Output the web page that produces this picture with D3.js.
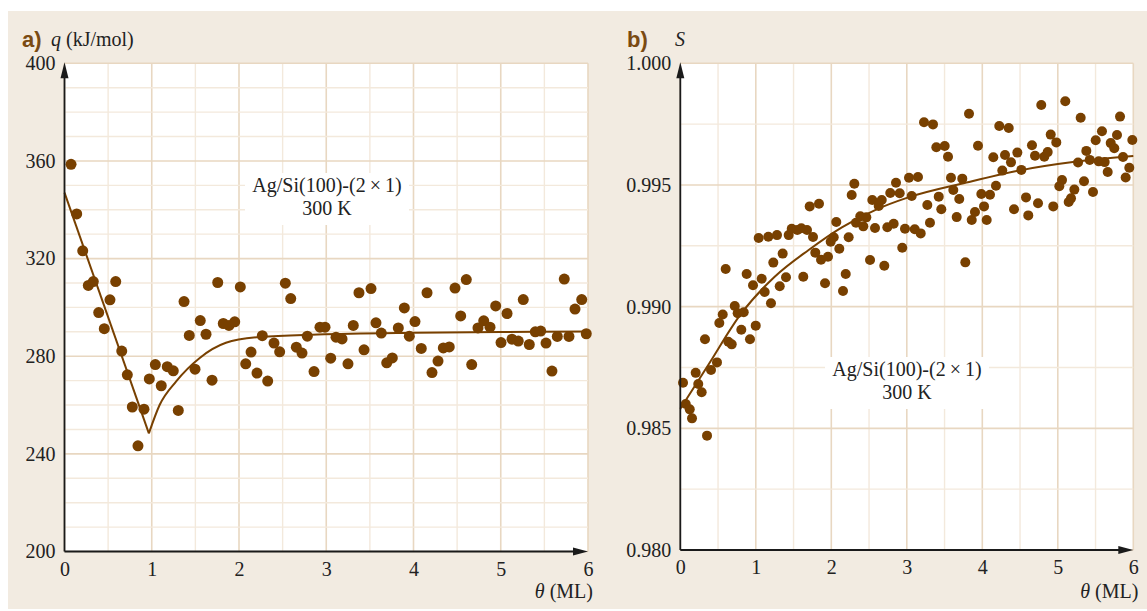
<!DOCTYPE html>
<html>
<head>
<meta charset="utf-8">
<script src="https://cdn.jsdelivr.net/npm/d3@7"></script>
<style>
  body { margin: 0; background: #fff; }
</style>
</head>
<body>
<div id="chart"></div>
<script>
// panel a: heat of adsorption q (kJ/mol) vs coverage theta (ML)
const heatTheta = [0.075, 0.14, 0.209, 0.273, 0.33, 0.392, 0.456, 0.521, 0.587, 0.656, 0.72, 0.777, 0.842, 0.911, 0.972, 1.041, 1.109, 1.178, 1.247, 1.304, 1.37, 1.43, 1.496, 1.556, 1.622, 1.691, 1.756, 1.82, 1.885, 1.951, 2.015, 2.077, 2.138, 2.206, 2.267, 2.329, 2.401, 2.466, 2.531, 2.593, 2.657, 2.722, 2.783, 2.86, 2.928, 2.986, 3.051, 3.112, 3.181, 3.249, 3.31, 3.375, 3.433, 3.513, 3.57, 3.631, 3.693, 3.757, 3.826, 3.895, 3.952, 4.017, 4.089, 4.155, 4.212, 4.281, 4.342, 4.41, 4.476, 4.541, 4.605, 4.667, 4.739, 4.805, 4.877, 4.942, 5.003, 5.072, 5.129, 5.201, 5.258, 5.327, 5.396, 5.458, 5.519, 5.587, 5.648, 5.728, 5.782, 5.851, 5.928, 5.98];
const heatQ = [358.6, 338.3, 323.2, 309.0, 310.6, 297.9, 291.3, 303.1, 310.6, 282.1, 272.4, 259.2, 243.3, 258.3, 270.7, 276.6, 267.9, 275.7, 274.0, 257.8, 302.4, 288.5, 274.7, 294.6, 289.0, 270.2, 310.2, 293.4, 292.6, 294.1, 308.4, 276.9, 281.7, 273.1, 288.4, 269.8, 285.4, 281.8, 309.9, 303.6, 283.7, 281.3, 288.2, 273.7, 291.9, 291.9, 279.2, 287.8, 287.1, 276.9, 292.6, 306.0, 282.6, 307.7, 293.7, 289.5, 277.3, 279.3, 291.6, 299.8, 288.2, 294.2, 283.2, 306.0, 273.3, 278.0, 283.4, 283.8, 307.9, 296.5, 311.4, 276.6, 291.6, 294.5, 291.9, 300.6, 285.6, 297.5, 287.0, 286.2, 303.2, 284.8, 290.0, 290.3, 285.4, 273.9, 288.1, 311.6, 288.1, 299.3, 303.2, 289.2];
// fitted curve of panel a (straight drop, then rise)
const heatFitDropTheta = [0, 0.967];
const heatFitDropQ = [347.0, 248.4];
const heatFitRiseTheta = [0.967, 1.09, 1.28, 1.55, 1.85, 2.24, 2.9, 4, 5, 6];
const heatFitRiseQ = [248.4, 260.0, 269.7, 279.3, 285.5, 287.9, 288.9, 289.6, 289.9, 290.1];
const heatTicks = [200, 240, 280, 320, 360, 400];

// panel b: sticking coefficient S vs coverage theta (ML)
const stickTheta = [0.036, 0.072, 0.125, 0.155, 0.204, 0.238, 0.283, 0.327, 0.354, 0.407, 0.486, 0.517, 0.562, 0.601, 0.636, 0.681, 0.721, 0.76, 0.808, 0.84, 0.879, 0.923, 0.963, 0.999, 1.038, 1.078, 1.118, 1.166, 1.201, 1.232, 1.281, 1.317, 1.356, 1.4, 1.436, 1.476, 1.55, 1.603, 1.629, 1.678, 1.714, 1.758, 1.788, 1.837, 1.864, 1.917, 1.956, 1.992, 2.032, 2.066, 2.106, 2.155, 2.191, 2.23, 2.27, 2.305, 2.327, 2.384, 2.424, 2.464, 2.513, 2.543, 2.579, 2.628, 2.668, 2.702, 2.742, 2.781, 2.826, 2.857, 2.906, 2.94, 2.976, 3.029, 3.065, 3.105, 3.148, 3.184, 3.228, 3.272, 3.307, 3.347, 3.391, 3.423, 3.457, 3.502, 3.546, 3.585, 3.616, 3.661, 3.695, 3.735, 3.775, 3.824, 3.86, 3.903, 3.943, 3.987, 4.023, 4.058, 4.102, 4.146, 4.181, 4.225, 4.265, 4.301, 4.35, 4.38, 4.42, 4.464, 4.517, 4.579, 4.609, 4.658, 4.698, 4.738, 4.781, 4.821, 4.866, 4.906, 4.94, 4.98, 5.02, 5.056, 5.099, 5.144, 5.175, 5.219, 5.268, 5.303, 5.347, 5.378, 5.423, 5.466, 5.502, 5.542, 5.585, 5.621, 5.661, 5.701, 5.748, 5.784, 5.824, 5.864, 5.899, 5.947, 5.987];
const stickS = [0.98687, 0.986, 0.98578, 0.98541, 0.98728, 0.98682, 0.98648, 0.98866, 0.9847, 0.9874, 0.98771, 0.98933, 0.98968, 0.99155, 0.98856, 0.98845, 0.99003, 0.98973, 0.98905, 0.98977, 0.99134, 0.98866, 0.99088, 0.98922, 0.99282, 0.99115, 0.9906, 0.99287, 0.99014, 0.99181, 0.99294, 0.99084, 0.99218, 0.99121, 0.99294, 0.9932, 0.99315, 0.99322, 0.99123, 0.99315, 0.99412, 0.99286, 0.99222, 0.99423, 0.99193, 0.99096, 0.99205, 0.99267, 0.99285, 0.99348, 0.99238, 0.99064, 0.99134, 0.99285, 0.99459, 0.99505, 0.99345, 0.99371, 0.9933, 0.99367, 0.99192, 0.99438, 0.99323, 0.99414, 0.99438, 0.99168, 0.99326, 0.99467, 0.99341, 0.99509, 0.99466, 0.99242, 0.9932, 0.9953, 0.99455, 0.99318, 0.99533, 0.99301, 0.99758, 0.99418, 0.99345, 0.99749, 0.99655, 0.99452, 0.994, 0.9966, 0.99616, 0.9953, 0.99479, 0.99368, 0.99442, 0.99526, 0.99182, 0.99793, 0.99356, 0.99389, 0.99661, 0.99463, 0.99412, 0.99356, 0.9946, 0.99614, 0.99497, 0.99742, 0.99559, 0.99623, 0.99734, 0.99593, 0.994, 0.99633, 0.99562, 0.99449, 0.99375, 0.99663, 0.9962, 0.99425, 0.99829, 0.99616, 0.99635, 0.99707, 0.99412, 0.99675, 0.99495, 0.9952, 0.99844, 0.9943, 0.99445, 0.99481, 0.99592, 0.99776, 0.99515, 0.9964, 0.99603, 0.99471, 0.99684, 0.99597, 0.99721, 0.99594, 0.99553, 0.99672, 0.99651, 0.99705, 0.99781, 0.99615, 0.99531, 0.99571, 0.99685];
const stickFitTheta = [0, 0.37, 0.81, 1.25, 1.7, 2.14, 2.58, 3.02, 3.79, 4.5, 5.25, 6];
const stickFitS = [0.9858, 0.9876, 0.98973, 0.99123, 0.99233, 0.99326, 0.99397, 0.99449, 0.9951, 0.9956, 0.99596, 0.99619];
const stickTicks = [0.98, 0.985, 0.99, 0.995, 1.0];

const thetaTicks = [0, 1, 2, 3, 4, 5, 6];

const brown = "#784000";
const serif = "'Liberation Serif', 'DejaVu Serif', serif";
const gridMajor = "#e8d7c1";
const gridMinor = "#f3e9dc";

const zip = (xs, ys) => xs.map((x, i) => ({ x, y: ys[i] })).filter((d) => d.y !== undefined);

const svg = d3.select("#chart").append("svg")
  .attr("width", 1147)
  .attr("height", 611)
  .style("display", "block");

svg.append("rect").attr("x", 8).attr("y", 11).attr("width", 1139).attr("height", 598).attr("fill", "#f2ebe1");

const drawPanel = (p) => {
  const g = svg.append("g");
  const [x0, x1] = p.x.range();
  const [y0, y1] = p.y.range();

  g.append("rect").attr("x", x0).attr("y", y1).attr("width", x1 - x0).attr("height", y0 - y1).attr("fill", "#fff");

  // grid
  const vLines = d3.range(0, 6.001, 0.5);
  g.append("g").selectAll("line").data(vLines).join("line")
    .attr("x1", (d) => p.x(d)).attr("x2", (d) => p.x(d))
    .attr("y1", y0).attr("y2", y1)
    .attr("stroke", (d) => (d % 1 === 0 ? gridMajor : gridMinor))
    .attr("stroke-width", (d) => (d % 1 === 0 ? 1.6 : 1.4));
  g.append("g").selectAll("line").data(p.hLines).join("line")
    .attr("x1", x0).attr("x2", x1)
    .attr("y1", (d) => p.y(d.v)).attr("y2", (d) => p.y(d.v))
    .attr("stroke", (d) => (d.major ? gridMajor : gridMinor))
    .attr("stroke-width", (d) => (d.major ? 1.6 : 1.4));

  // label box
  const lb = g.append("g");
  lb.append("rect")
    .attr("x", p.labelX - 82).attr("y", p.labelY - 19)
    .attr("width", 164).attr("height", 52).attr("fill", "#fff");
  lb.append("text").attr("x", p.labelX).attr("y", p.labelY)
    .attr("text-anchor", "middle").style("font", `20px ${serif}`).attr("fill", "#222")
    .text("Ag/Si(100)-(2\u2009×\u20091)");
  lb.append("text").attr("x", p.labelX).attr("y", p.labelY + 23)
    .attr("text-anchor", "middle").style("font", `20px ${serif}`).attr("fill", "#222")
    .text("300 K");

  // fitted curves
  p.fits.forEach((f) => {
    g.append("path").datum(f.data)
      .attr("d", d3.line().x((d) => p.x(d.x)).y((d) => p.y(d.y)).curve(f.curve))
      .attr("fill", "none").attr("stroke", brown).attr("stroke-width", 2);
  });

  // points
  g.append("g").selectAll("circle").data(p.points).join("circle")
    .attr("cx", (d) => p.x(d.x)).attr("cy", (d) => p.y(d.y))
    .attr("r", p.r).attr("fill", brown);

  // axes with tick labels only
  const ax = g.append("g").attr("transform", `translate(0,${y0})`)
    .call(d3.axisBottom(p.x).tickValues(thetaTicks).tickSize(0).tickPadding(10).tickFormat(d3.format("d")));
  const ay = g.append("g").attr("transform", `translate(${x0},0)`)
    .call(d3.axisLeft(p.y).tickValues(p.yTicks).tickSize(0).tickPadding(9).tickFormat(p.yFormat));
  [ax, ay].forEach((a) => {
    a.select(".domain").remove();
    a.selectAll("text").style("font", `20px ${serif}`).attr("fill", "#222");
  });

  // axis lines with arrowheads
  g.append("line").attr("x1", x0).attr("x2", x1 - 12).attr("y1", y0).attr("y2", y0)
    .attr("stroke", "#1a1a1a").attr("stroke-width", 1.8);
  g.append("line").attr("x1", x0).attr("x2", x0).attr("y1", y0).attr("y2", y1 + 12)
    .attr("stroke", "#1a1a1a").attr("stroke-width", 1.8);
  g.append("path").attr("d", `M${x1},${y0}L${x1 - 15},${y0 - 4}L${x1 - 15},${y0 + 4}Z`).attr("fill", "#1a1a1a");
  g.append("path").attr("d", `M${x0},${y1 - 1}L${x0 - 4},${y1 + 15}L${x0 + 4},${y1 + 15}Z`).attr("fill", "#1a1a1a");

  // titles
  g.append("text").attr("x", p.letterX).attr("y", 47)
    .style("font", "bold 22px 'Liberation Sans', Arial, sans-serif").attr("fill", "#7a4a12")
    .text(p.letter);
  const yt = g.append("text").attr("x", p.yTitleX).attr("y", 46).style("font", `20px ${serif}`).attr("fill", "#222");
  yt.append("tspan").style("font-style", "italic").text(p.yVar);
  if (p.yUnit) yt.append("tspan").text(p.yUnit);
  const xt = g.append("text").attr("x", x1 + 5).attr("y", 598).attr("text-anchor", "end")
    .style("font", `20px ${serif}`).attr("fill", "#222");
  xt.append("tspan").style("font-style", "italic").text("θ");
  xt.append("tspan").text(" (ML)");
};

const xA = d3.scaleLinear().domain([0, 6]).range([64.5, 588]);
const yA = d3.scaleLinear().domain([200, 400]).range([551.5, 63.3]);
const xB = d3.scaleLinear().domain([0, 6]).range([680.3, 1133.3]);
const yB = d3.scaleLinear().domain([0.98, 1.0]).range([550, 63.3]);

drawPanel({
  x: xA,
  y: yA,
  hLines: d3.range(200, 400.1, 10).map((v) => ({ v, major: v % 40 === 0 })),
  yTicks: heatTicks,
  yFormat: d3.format("d"),
  points: zip(heatTheta, heatQ),
  fits: [
    { data: zip(heatFitDropTheta, heatFitDropQ), curve: d3.curveLinear },
    { data: zip(heatFitRiseTheta, heatFitRiseQ), curve: d3.curveMonotoneX },
  ],
  r: 5.5,
  labelX: 327,
  labelY: 192,
  letter: "a)",
  letterX: 22,
  yVar: "q",
  yUnit: " (kJ/mol)",
  yTitleX: 51,
});

drawPanel({
  x: xB,
  y: yB,
  hLines: d3.range(0, 8.1).map((i) => ({ v: 0.98 + i * 0.0025, major: i % 2 === 0 })),
  yTicks: stickTicks,
  yFormat: d3.format(".3f"),
  points: zip(stickTheta, stickS),
  fits: [{ data: zip(stickFitTheta, stickFitS), curve: d3.curveMonotoneX }],
  r: 5,
  labelX: 907,
  labelY: 376,
  letter: "b)",
  letterX: 627,
  yVar: "S",
  yUnit: "",
  yTitleX: 675,
});
</script>
</body>
</html>
